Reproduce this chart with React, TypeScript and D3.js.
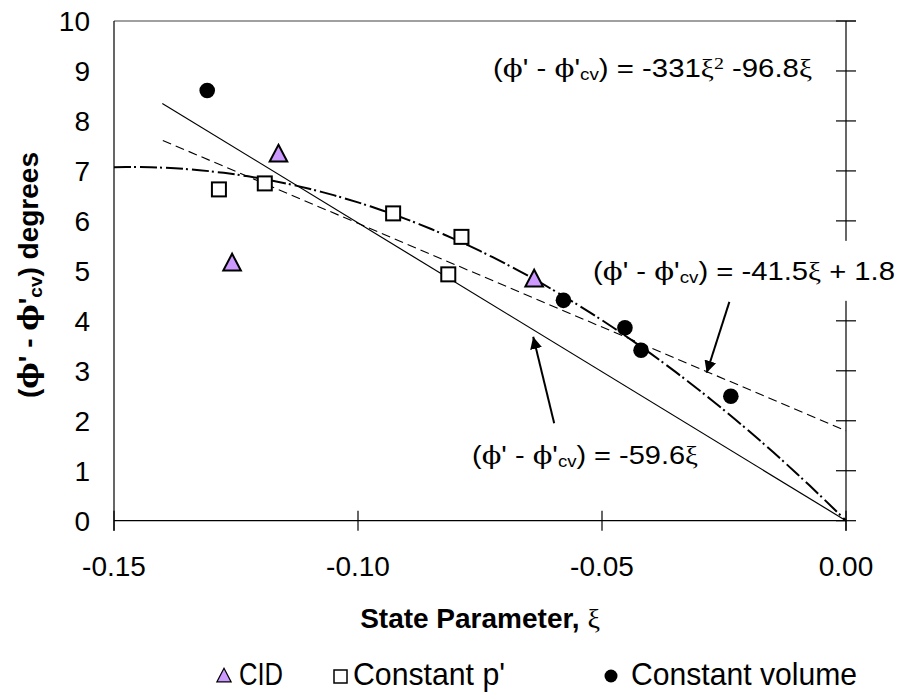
import React from "react";
import * as d3 from "d3";

const cidXi = [-0.1163, -0.1258, -0.0639];
const cidPhi = [7.33, 5.15, 4.83];
const cpXi = [-0.1285, -0.1191, -0.0928, -0.0788, -0.0815];
const cpPhi = [6.63, 6.75, 6.15, 5.68, 4.93];
const cvXi = [-0.1309, -0.0579, -0.0453, -0.042, -0.0236];
const cvPhi = [8.61, 4.41, 3.86, 3.41, 2.49];

const xTicks = [-0.15, -0.1, -0.05, 0];
const yTicks = [0, 1, 2, 3, 4, 5, 6, 7, 8, 9, 10];

// trendlines as printed on the chart
const slopeOrigin = -59.6;
const linSlope = -41.5;
const linIntercept = 1.8;
const quadA = -331;
const quadB = -96.8;

const legendNames = ["CID", "Constant p'", "Constant volume"];

const W = 901;
const H = 694;
const sans = "'Liberation Sans', Arial, sans-serif";
const serif = "'Liberation Serif', 'Times New Roman', serif";
const phiFont = "'DejaVu Serif', 'Liberation Serif', serif";
const PHI = "\u03d5";
const purple = "#cc99ff";

function Eq({ x, y, len, children }: any) {
  return (
    <text x={x} y={y} fontFamily={sans} fontSize={25} textLength={len} lengthAdjust="spacingAndGlyphs">
      {"("}
      <tspan fontFamily={phiFont}>{PHI}</tspan>
      {"' - "}
      <tspan fontFamily={phiFont}>{PHI}</tspan>
      {"'"}
      <tspan fontSize={16} dy={3}>cv</tspan>
      <tspan dy={-3}>{") = "}</tspan>
      {children}
    </text>
  );
}

const fmt = (t: number) => d3.format(".2f")(t).replace("\u2212", "-");

export default function App() {
  const x = d3.scaleLinear().domain([-0.15, 0]).range([114, 846]);
  const y = d3.scaleLinear().domain([0, 10]).range([520.7, 21]);

  const line = d3
    .line<[number, number]>()
    .x((d) => x(d[0]))
    .y((d) => y(d[1]));

  const solidPts: [number, number][] = [-0.1401, 0].map((v) => [v, slopeOrigin * v]);
  const dashPts: [number, number][] = [-0.14, 0].map((v) => [v, linSlope * v + linIntercept]);
  const quadPts: [number, number][] = d3
    .range(0, 61)
    .map((i) => -0.15 + (i * 0.15) / 60)
    .map((v) => [v, quadA * v * v + quadB * v]);

  const tri = (cx: number, cy: number, s: number) =>
    `M${cx},${cy - s * 0.6}L${cx + s * 0.55},${cy + s * 0.45}L${cx - s * 0.55},${cy + s * 0.45}Z`;

  const arrows = [
    { from: [-0.0239, 4.38], to: [-0.02855, 2.96] },
    { from: [-0.0598, 1.95], to: [-0.0641, 3.68] },
  ];

  return (
    <svg width={W} height={H} style={{ position: "absolute", left: 0, top: 0, background: "#fff" }}>
      <defs>
        <marker id="ah" viewBox="0 0 10 10" refX="10" refY="5" markerWidth="6" markerHeight="6" orient="auto" markerUnits="strokeWidth">
          <path d="M0,0L10,5L0,10Z" fill="#000" />
        </marker>
      </defs>

      {/* frame */}
      <line x1={x(-0.15)} x2={x(0) + 10} y1={y(10)} y2={y(10)} stroke="#808080" strokeWidth={1.5} />
      <line x1={x(-0.15)} x2={x(-0.15)} y1={y(10)} y2={y(0) + 10} stroke="#000" strokeWidth={1.2} />
      <line x1={x(-0.15)} x2={x(0)} y1={y(0)} y2={y(0)} stroke="#000" strokeWidth={1.2} />
      <line x1={x(0)} x2={x(0)} y1={y(10)} y2={y(0) + 10} stroke="#000" strokeWidth={1.2} />
      {xTicks.map((t) => (
        <line key={t} x1={x(t)} x2={x(t)} y1={y(0) - 10} y2={y(0) + 10} stroke="#000" strokeWidth={1.2} />
      ))}
      {yTicks.map((t) => (
        <line key={t} x1={x(0) - 10} x2={x(0) + 10} y1={y(t)} y2={y(t)} stroke="#000" strokeWidth={1.2} />
      ))}

      {/* tick labels */}
      {yTicks.map((t) => (
        <text key={t} x={90} y={y(t) + 10} textAnchor="end" fontFamily={sans} fontSize={28}>
          {t}
        </text>
      ))}
      {xTicks.map((t) => (
        <text key={t} x={x(t)} y={576} textAnchor="middle" fontFamily={sans} fontSize={28}>
          {fmt(t)}
        </text>
      ))}

      {/* trendlines */}
      <path d={line(solidPts) || ""} fill="none" stroke="#000" strokeWidth={1.2} />
      <path d={line(dashPts) || ""} fill="none" stroke="#000" strokeWidth={1.1} strokeDasharray="9,5" />
      <path d={line(quadPts) || ""} fill="none" stroke="#000" strokeWidth={2} strokeDasharray="17,3,2,4" />

      {/* points */}
      {cpXi.map((v, i) => (
        <rect key={i} x={x(v) - 7} y={y(cpPhi[i]) - 7} width={14} height={14} fill="#fff" stroke="#000" strokeWidth={2} />
      ))}
      {cidXi.map((v, i) => (
        <path key={i} d={tri(x(v), y(cidPhi[i]), 16)} fill={purple} stroke="#000" strokeWidth={2} />
      ))}
      {cvXi.map((v, i) => (
        <circle key={i} cx={x(v)} cy={y(cvPhi[i])} r={7.8} fill="#000" />
      ))}

      {/* equations */}
      <Eq x={493} y={77} len={319}>
        {"-331"}
        <tspan fontFamily={serif}>ξ</tspan>
        <tspan fontFamily={serif} fontSize={17} dy={-8}>2</tspan>
        <tspan dy={8}>{" -96.8"}</tspan>
        <tspan fontFamily={serif}>ξ</tspan>
      </Eq>
      <rect x={585} y={y(5.6)} width={W - 585} height={y(4.4) - y(5.6)} fill="#fff" />
      <Eq x={593} y={280} len={302}>
        {"-41.5"}
        <tspan fontFamily={serif}>ξ</tspan>
        {" + 1.8"}
      </Eq>
      <Eq x={472} y={464} len={226}>
        {"-59.6"}
        <tspan fontFamily={serif}>ξ</tspan>
      </Eq>

      {arrows.map((a, i) => (
        <line
          key={i}
          x1={x(a.from[0])}
          y1={y(a.from[1])}
          x2={x(a.to[0])}
          y2={y(a.to[1])}
          stroke="#000"
          strokeWidth={2}
          markerEnd="url(#ah)"
        />
      ))}

      {/* axis titles */}
      <text x={480} y={628} textAnchor="middle" fontFamily={sans} fontSize={28} fontWeight="bold">
        {"State Parameter, "}
        <tspan fontFamily={serif} fontWeight="normal">ξ</tspan>
      </text>
      <text
        transform={`translate(38,275) rotate(-90)`}
        textAnchor="middle"
        fontFamily={sans}
        fontSize={28}
        fontWeight="bold"
        textLength={246}
        lengthAdjust="spacingAndGlyphs"
      >
        {"("}
        <tspan fontFamily={phiFont}>{PHI}</tspan>
        {"' - "}
        <tspan fontFamily={phiFont}>{PHI}</tspan>
        {"'"}
        <tspan fontSize={19} dy={4}>cv</tspan>
        <tspan dy={-4}>{") degrees"}</tspan>
      </text>

      {/* legend */}
      <path d={tri(224, 676, 13)} fill={purple} stroke="#000" strokeWidth={1.2} />
      <text x={239} y={685} fontFamily={sans} fontSize={32} textLength={44} lengthAdjust="spacingAndGlyphs">
        {legendNames[0]}
      </text>
      <rect x={334} y={670} width={13} height={13} fill="#fff" stroke="#000" strokeWidth={1.5} />
      <text x={353} y={685} fontFamily={sans} fontSize={32} textLength={152} lengthAdjust="spacingAndGlyphs">
        {legendNames[1]}
      </text>
      <circle cx={611} cy={676} r={6.5} fill="#000" />
      <text x={631} y={685} fontFamily={sans} fontSize={32} textLength={226} lengthAdjust="spacingAndGlyphs">
        {legendNames[2]}
      </text>
    </svg>
  );
}
